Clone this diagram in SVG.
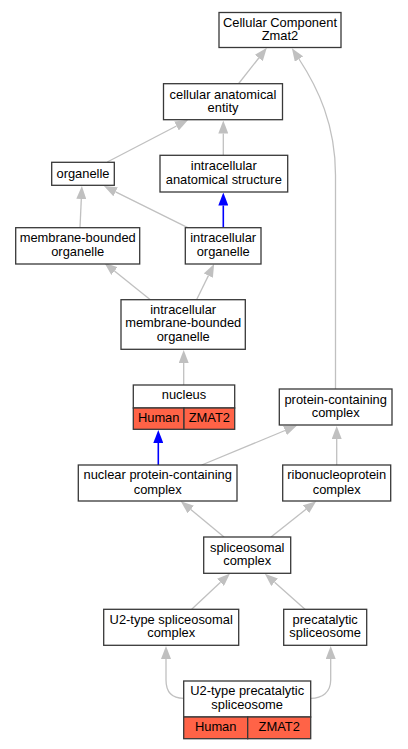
<svg xmlns="http://www.w3.org/2000/svg" width="408" height="749" viewBox="0 0 408 749">
<style>
.n{fill:#fff;stroke:#383838;stroke-width:1.3}
.r{fill:#ff6347;stroke:#383838;stroke-width:1.3}
text{font-family:"Liberation Sans",Arial,sans-serif;font-size:12.9px;fill:#000;text-anchor:middle}
.e{fill:none;stroke:#c0c0c0;stroke-width:1.3}
.b{fill:none;stroke:#0000ff;stroke-width:1.6}
</style>
<defs>
<marker id="ag" viewBox="0 0 13 10" refX="0" refY="5" markerUnits="userSpaceOnUse" markerWidth="13" markerHeight="10" orient="auto"><path d="M0,0L13,5L0,10z" fill="#c0c0c0"/></marker>
<marker id="ab" viewBox="0 0 13 10" refX="0" refY="5" markerUnits="userSpaceOnUse" markerWidth="13" markerHeight="10" orient="auto"><path d="M0,0L13,5L0,10z" fill="#0000ff"/></marker>
</defs>
<rect width="408" height="749" fill="#fff"/>
<g id="edges">
<path class="e" marker-end="url(#ag)" d="M238.7,83.5L258.8,58"/>
<path class="e" marker-end="url(#ag)" d="M335.5,389L335.5,175C335.5,125 318,88 299,59"/>
<path class="e" marker-end="url(#ag)" d="M223.3,155.3L223.3,133.5"/>
<path class="e" marker-end="url(#ag)" d="M107.3,162L176.5,126"/>
<path class="e" marker-end="url(#ag)" d="M80,227.7L81.3,199"/>
<path class="e" marker-end="url(#ag)" d="M187.7,227.7L115.6,191.8"/>
<path class="b" marker-end="url(#ab)" d="M223.3,227.7L223.3,205.5"/>
<path class="e" marker-end="url(#ag)" d="M150,299.5L114.5,271"/>
<path class="e" marker-end="url(#ag)" d="M196.7,299.5L208.4,275.6"/>
<path class="e" marker-end="url(#ag)" d="M183.7,385L183.7,363"/>
<path class="b" marker-end="url(#ab)" d="M158.3,465L158.3,443"/>
<path class="e" marker-end="url(#ag)" d="M201.7,465L285,430.5"/>
<path class="e" marker-end="url(#ag)" d="M336.7,465L336.7,439"/>
<path class="e" marker-end="url(#ag)" d="M224,537L190.8,509.5"/>
<path class="e" marker-end="url(#ag)" d="M271,537L306,509.3"/>
<path class="e" marker-end="url(#ag)" d="M191.7,609.3L220.5,582.3"/>
<path class="e" marker-end="url(#ag)" d="M305,609.3L274.6,582.3"/>
<path class="e" marker-end="url(#ag)" d="M183.7,698.3C172,698.3 166,692 166,680L166,659"/>
<path class="e" marker-end="url(#ag)" d="M310.7,698.3C322.4,698.3 330.7,692 330.7,680L330.7,659"/>
</g>
<g id="n_cc"><rect class="n" x="219" y="12.5" width="122" height="35"/><text x="280" y="26.6">Cellular Component</text><text x="280" y="39.9">Zmat2</text></g>
<g id="n_cae"><rect class="n" x="163.5" y="83.7" width="119" height="36"/><text x="223" y="98.5">cellular anatomical</text><text x="223" y="111.8">entity</text></g>
<g id="n_org"><rect class="n" x="51.7" y="162.3" width="62.6" height="23"/><text x="83" y="177.6">organelle</text></g>
<g id="n_ias"><rect class="n" x="160" y="155.3" width="127.7" height="36.7"/><text x="223.8" y="170.2">intracellular</text><text x="223.8" y="183.5">anatomical structure</text></g>
<g id="n_mbo"><rect class="n" x="15.7" y="227.7" width="124" height="36.3"/><text x="77.7" y="242.2">membrane-bounded</text><text x="77.7" y="255.5">organelle</text></g>
<g id="n_io"><rect class="n" x="185.3" y="227.7" width="75.7" height="36.3"/><text x="223.2" y="242.2">intracellular</text><text x="223.2" y="255.5">organelle</text></g>
<g id="n_imbo"><rect class="n" x="121" y="299.7" width="124.3" height="49.6"/><text x="183.2" y="313.8">intracellular</text><text x="183.2" y="327.2">membrane-bounded</text><text x="183.2" y="341.2">organelle</text></g>
<g id="n_nuc"><rect class="n" x="133.3" y="385" width="101.4" height="23"/><text x="184" y="398.8">nucleus</text><rect class="r" x="133.3" y="408" width="50.7" height="21.3"/><rect class="r" x="184" y="408" width="50.7" height="21.3"/><text x="158.7" y="421.5">Human</text><text x="209.3" y="421.5">ZMAT2</text></g>
<g id="n_pcc"><rect class="n" x="279.3" y="389" width="112.7" height="36"/><text x="335.7" y="403.5">protein-containing</text><text x="335.7" y="416.8">complex</text></g>
<g id="n_npcc"><rect class="n" x="78.3" y="465" width="158.7" height="36"/><text x="157.7" y="479.2">nuclear protein-containing</text><text x="157.7" y="493.5">complex</text></g>
<g id="n_rnp"><rect class="n" x="282.7" y="465" width="108" height="36"/><text x="336.7" y="479.2">ribonucleoprotein</text><text x="336.7" y="493.5">complex</text></g>
<g id="n_sc"><rect class="n" x="203.7" y="537" width="87" height="36.3"/><text x="247.2" y="551.5">spliceosomal</text><text x="247.2" y="565.2">complex</text></g>
<g id="n_u2sc"><rect class="n" x="103.7" y="609.3" width="135" height="36"/><text x="171.2" y="623.5">U2-type spliceosomal</text><text x="171.2" y="636.8">complex</text></g>
<g id="n_ps"><rect class="n" x="283.7" y="609.3" width="83" height="36"/><text x="325.2" y="623.5">precatalytic</text><text x="325.2" y="636.8">spliceosome</text></g>
<g id="n_u2ps"><rect class="n" x="183.7" y="681" width="127" height="36"/><text x="247.2" y="695.2">U2-type precatalytic</text><text x="247.2" y="709.2">spliceosome</text><rect class="r" x="183.7" y="717" width="64" height="21.7"/><rect class="r" x="247.7" y="717" width="63" height="21.7"/><text x="215.7" y="731.2">Human</text><text x="279.2" y="731.2">ZMAT2</text></g>
</svg>
